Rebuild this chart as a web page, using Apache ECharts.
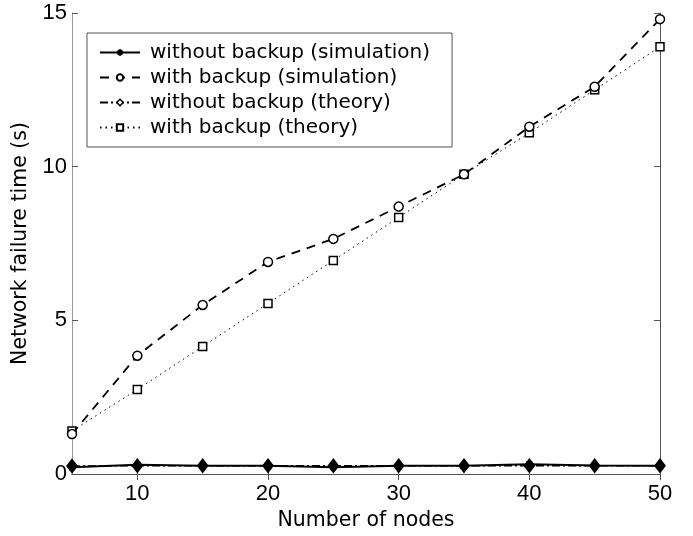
<!DOCTYPE html>
<html><head><meta charset="utf-8">
<script src="https://cdn.jsdelivr.net/npm/echarts@6/dist/echarts.min.js"></script>
<style>html,body{margin:0;padding:0;background:#fff}#c{width:693px;height:536px}</style>
</head><body><div id="c"></div>
<script>
var nodes = [5, 10, 15, 20, 25, 30, 35, 40, 45, 50];
var withoutSim = [0.22, 0.30, 0.27, 0.27, 0.22, 0.27, 0.27, 0.32, 0.28, 0.27];
var withSim = [1.30, 3.85, 5.50, 6.90, 7.65, 8.70, 9.75, 11.30, 12.60, 14.80];
var withoutTheory = [0.26, 0.27, 0.27, 0.27, 0.27, 0.27, 0.27, 0.27, 0.27, 0.27];
var withTheory = [1.40, 2.75, 4.15, 5.55, 6.95, 8.35, 9.75, 11.10, 12.50, 13.90];
var xTicks = [10, 20, 30, 40, 50];
var names = ['without backup (simulation)', 'with backup (simulation)', 'without backup (theory)', 'with backup (theory)'];

function pairs(v){ return nodes.map(function(n,i){ return [n, v[i]]; }); }
var star = 'path://M0,-10L0,10M-10,0L10,0M-7,-7L7,7M-7,7L7,-7';
var font = 'Liberation Sans, Arial, Helvetica, sans-serif';
var wfont = 'DejaVu Sans, Liberation Sans, sans-serif';

var chart = echarts.init(document.getElementById('c'), null, {renderer:'canvas'});
chart.setOption({
  animation: false,
  backgroundColor: '#fff',
  grid: {left: 72, right: 33, top: 13, bottom: 60, show: false},
  legend: {
    show: true, left: 87, top: 33, orient: 'vertical',
    data: [
      {name: names[0]},
      {name: names[1]},
      {name: names[2], itemStyle: {color: '#fff', borderColor: '#000', borderWidth: 1.5}},
      {name: names[3]}
    ],
    itemWidth: 40, itemHeight: 8, itemGap: 4,
    padding: [9, 22, 9, 12],
    borderColor: '#555', borderWidth: 1, backgroundColor: '#fff',
    textStyle: {fontFamily: wfont, fontSize: 20, lineHeight: 21, color: '#000', padding: [0,0,0,5]}
  },
  xAxis: [{
    type: 'value', min: 5, max: 50, position: 'bottom',
    name: 'Number of nodes', nameLocation: 'middle', nameGap: 36,
    nameTextStyle: {fontFamily: wfont, fontSize: 20.5, color: '#000'},
    axisLine: {show: true, lineStyle: {color: '#999', width: 1}},
    axisTick: {show: true, inside: true, length: 6, customValues: xTicks, lineStyle: {color: '#555'}},
    axisLabel: {customValues: xTicks, fontFamily: font, fontSize: 22, color: '#000', margin: 9},
    splitLine: {show: false}
  }, {
    type: 'value', min: 5, max: 50, position: 'top',
    axisLine: {show: true, lineStyle: {color: '#555', width: 1}},
    axisTick: {show: true, inside: true, length: 6, customValues: xTicks, lineStyle: {color: '#555'}},
    axisLabel: {show: false}, splitLine: {show: false}
  }],
  yAxis: [{
    type: 'value', min: 0, max: 15, interval: 5, position: 'left',
    name: 'Network failure time (s)', nameLocation: 'middle', nameGap: 38, nameRotate: 90,
    nameTextStyle: {fontFamily: wfont, fontSize: 20.5, color: '#000'},
    axisLine: {show: true, lineStyle: {color: '#999', width: 1}},
    axisTick: {show: true, inside: true, length: 6, lineStyle: {color: '#555'}},
    axisLabel: {fontFamily: font, fontSize: 22, color: '#000', margin: 5},
    splitLine: {show: false}
  }, {
    type: 'value', min: 0, max: 15, interval: 5, position: 'right',
    axisLine: {show: true, lineStyle: {color: '#555', width: 1}},
    axisTick: {show: true, inside: true, length: 6, lineStyle: {color: '#555'}},
    axisLabel: {show: false}, splitLine: {show: false}
  }],
  series: [{
    name: names[0], type: 'line', data: pairs(withoutSim),
    symbol: star, symbolSize: 8, showSymbol: true,
    lineStyle: {color: '#000', width: 2, type: 'solid'},
    itemStyle: {color: '#000', borderColor: '#000', borderWidth: 1.5}, z: 5
  }, {
    name: names[1], type: 'line', data: pairs(withSim),
    symbol: 'circle', symbolSize: 9, showSymbol: true,
    lineStyle: {color: '#000', width: 1.8, type: [9, 7]},
    itemStyle: {color: '#fff', borderColor: '#000', borderWidth: 1.5}, z: 4
  }, {
    name: names[2], type: 'line', data: pairs(withoutTheory),
    symbol: 'diamond', symbolSize: [10, 13], showSymbol: true,
    lineStyle: {color: '#000', width: 1.5, type: [8, 3, 2, 3]},
    itemStyle: {color: '#000', borderColor: '#000', borderWidth: 1.5}, z: 3
  }, {
    name: names[3], type: 'line', data: pairs(withTheory),
    symbol: 'rect', symbolSize: 8, showSymbol: true,
    lineStyle: {color: '#000', width: 1, type: [1.5, 4]},
    itemStyle: {color: '#fff', borderColor: '#000', borderWidth: 1.5}, z: 3
  }]
});
</script></body></html>
